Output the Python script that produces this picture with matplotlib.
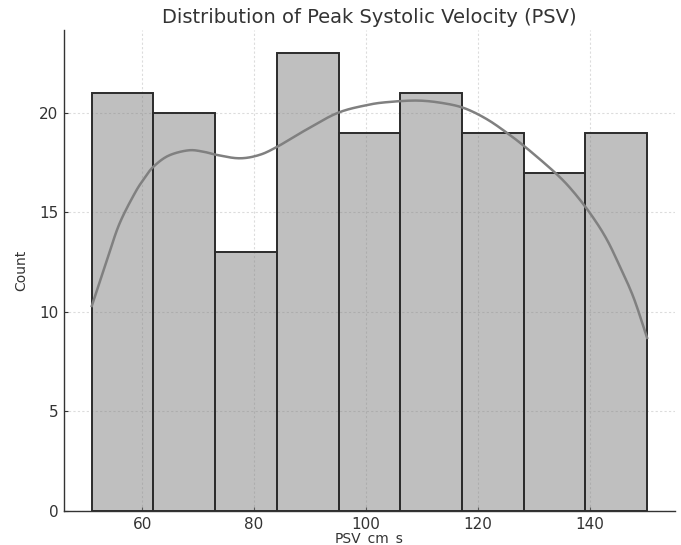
import numpy as np
import matplotlib.pyplot as plt

# histogram of PSV values (9 bins)
psv_min = 51.0
psv_max = 150.3
counts = [21, 20, 13, 23, 19, 21, 19, 17, 19]

# kde curve (scaled to counts)
kde_x = [51.0, 53.6, 55.9, 58.76, 60.5, 62.03, 64.71, 68.28, 70.96, 73.15, 77.31, 80.88, 84.16,
         89.31, 94.97, 100.32, 104.18, 109.25, 113.62, 117.59, 121.55, 125.32, 128.89,
         133.95, 136.93, 140.1, 142.88, 145.16, 147.84, 150.3]
kde_y = [10.3, 12.5, 14.4, 16.0, 16.75, 17.3, 17.85, 18.12, 18.05, 17.9, 17.72, 17.88, 18.3,
         19.15, 20.0, 20.4, 20.55, 20.62, 20.5, 20.24, 19.7, 18.98, 18.2,
         16.97, 16.1, 14.96, 13.75, 12.45, 10.75, 8.7]


def catmull_rom(px, py, n=12):
    # smooth curve through the read points
    px = np.asarray(px, float)
    py = np.asarray(py, float)
    P = np.column_stack([px, py])
    P = np.vstack([2 * P[0] - P[1], P, 2 * P[-1] - P[-2]])
    out = []
    t = np.linspace(0, 1, n, endpoint=False)[:, None]
    for i in range(1, len(P) - 2):
        p0, p1, p2, p3 = P[i - 1], P[i], P[i + 1], P[i + 2]
        out.append(0.5 * ((2 * p1) + (-p0 + p2) * t + (2 * p0 - 5 * p1 + 4 * p2 - p3) * t ** 2
                          + (-p0 + 3 * p1 - 3 * p2 + p3) * t ** 3))
    out.append(P[-2][None, :])
    out = np.vstack(out)
    return out[:, 0], out[:, 1]


edges = np.linspace(psv_min, psv_max, len(counts) + 1)

fig = plt.figure(figsize=(6.81, 5.45), dpi=100)
ax = fig.add_axes([0.094, 0.0624, 0.897, 0.882])

ax.bar(edges[:-1], counts, width=np.diff(edges), align='edge',
       facecolor=(0.5, 0.5, 0.5, 0.5), edgecolor='#2b2b2b', linewidth=1.4, zorder=2)

cx, cy = catmull_rom(kde_x, kde_y)
ax.plot(cx, cy, color='#808080', linewidth=1.8, zorder=3)

pad = 0.05 * (psv_max - psv_min)
ax.set_xlim(psv_min - pad, psv_max + pad)
ax.set_ylim(0, 23 * 1.05)
ax.set_xticks([60, 80, 100, 120, 140])
ax.set_yticks([0, 5, 10, 15, 20])

ax.grid(True, linestyle=(0, (2, 2)), color='#dcdcdc', linewidth=0.8)
ax.set_axisbelow(True)

for s in ['top', 'right']:
    ax.spines[s].set_visible(False)
for s in ['left', 'bottom']:
    ax.spines[s].set_color('#333333')
    ax.spines[s].set_linewidth(1.0)

ax.tick_params(colors='#333333', labelsize=11, length=3, direction='in', pad=4)
ax.set_title('Distribution of Peak Systolic Velocity (PSV)', fontsize=14, color='#333333', pad=5)
ax.set_xlabel('PSV_cm_s', fontsize=10, color='#333333', labelpad=0)
ax.set_ylabel('Count', fontsize=10, color='#333333', labelpad=8)

fig.savefig('out.png', dpi=100)
